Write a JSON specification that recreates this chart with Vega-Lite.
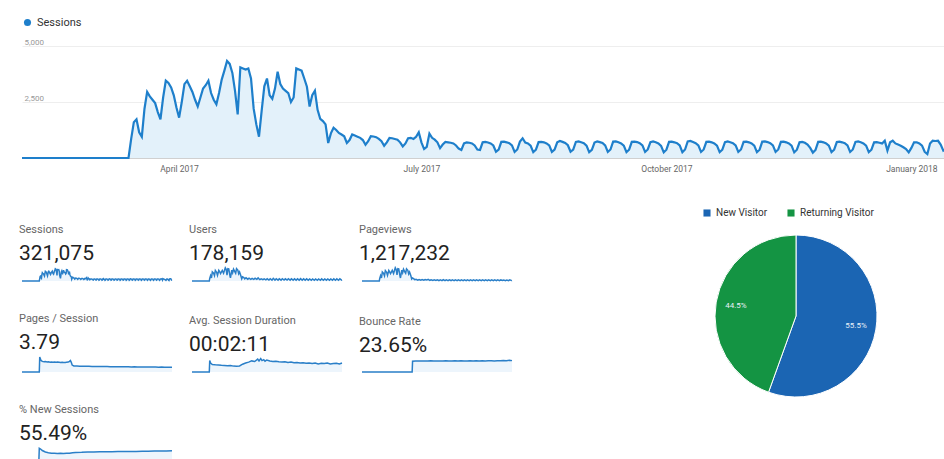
{
"$schema": "https://vega.github.io/schema/vega-lite/v6.json",
"padding": {"left": 17, "top": 17, "right": 0, "bottom": 0},
"background": "white",
"config": {
  "font": "Roboto",
  "view": {"stroke": null},
  "title": {"anchor": "start", "font": "Roboto", "subtitleFont": "Roboto", "fontSize": 11, "fontWeight": "normal", "color": "#666666", "subtitleFontSize": 21, "subtitleColor": "#222222", "subtitlePadding": 8, "offset": 1}
},
"resolve": {"scale": {"color": "independent"}, "legend": {"color": "independent"}},
"datasets": {
"sessions": [
{"d":"2017-02-01","v":0},{"d":"2017-02-02","v":0},{"d":"2017-02-03","v":0},{"d":"2017-02-04","v":0},{"d":"2017-02-05","v":0},{"d":"2017-02-06","v":0},{"d":"2017-02-07","v":0},{"d":"2017-02-08","v":0},{"d":"2017-02-09","v":0},{"d":"2017-02-10","v":0},{"d":"2017-02-11","v":0},{"d":"2017-02-12","v":0},{"d":"2017-02-13","v":0},{"d":"2017-02-14","v":0},{"d":"2017-02-15","v":0},{"d":"2017-02-16","v":0},{"d":"2017-02-17","v":0},{"d":"2017-02-18","v":0},{"d":"2017-02-19","v":0},{"d":"2017-02-20","v":0},{"d":"2017-02-21","v":0},{"d":"2017-02-22","v":0},{"d":"2017-02-23","v":0},{"d":"2017-02-24","v":0},{"d":"2017-02-25","v":0},{"d":"2017-02-26","v":0},{"d":"2017-02-27","v":0},{"d":"2017-02-28","v":0},
{"d":"2017-03-01","v":0},{"d":"2017-03-02","v":0},{"d":"2017-03-03","v":0},{"d":"2017-03-04","v":0},{"d":"2017-03-05","v":0},{"d":"2017-03-06","v":0},{"d":"2017-03-07","v":0},{"d":"2017-03-08","v":0},{"d":"2017-03-09","v":0},{"d":"2017-03-10","v":0},{"d":"2017-03-11","v":0},{"d":"2017-03-12","v":0},{"d":"2017-03-13","v":0},
{"d":"2017-03-14","v":850},{"d":"2017-03-15","v":1600},{"d":"2017-03-16","v":1730},{"d":"2017-03-17","v":1150},{"d":"2017-03-18","v":950},{"d":"2017-03-19","v":2200},{"d":"2017-03-20","v":2950},{"d":"2017-03-21","v":2750},{"d":"2017-03-22","v":2600},{"d":"2017-03-23","v":2450},{"d":"2017-03-24","v":2050},{"d":"2017-03-25","v":1730},{"d":"2017-03-26","v":2700},{"d":"2017-03-27","v":3450},{"d":"2017-03-28","v":3350},{"d":"2017-03-29","v":3150},{"d":"2017-03-30","v":2800},{"d":"2017-03-31","v":2250},
{"d":"2017-04-01","v":1800},{"d":"2017-04-02","v":2500},{"d":"2017-04-03","v":3300},{"d":"2017-04-04","v":3450},{"d":"2017-04-05","v":3200},{"d":"2017-04-06","v":2950},{"d":"2017-04-07","v":2600},{"d":"2017-04-08","v":2300},{"d":"2017-04-09","v":2700},{"d":"2017-04-10","v":3100},{"d":"2017-04-11","v":3250},{"d":"2017-04-12","v":3450},{"d":"2017-04-13","v":2900},{"d":"2017-04-14","v":2600},{"d":"2017-04-15","v":2400},{"d":"2017-04-16","v":2900},{"d":"2017-04-17","v":3500},{"d":"2017-04-18","v":3900},{"d":"2017-04-19","v":4330},{"d":"2017-04-20","v":4200},{"d":"2017-04-21","v":3800},{"d":"2017-04-22","v":3000},{"d":"2017-04-23","v":1950},{"d":"2017-04-24","v":4050},{"d":"2017-04-25","v":4000},{"d":"2017-04-26","v":3950},{"d":"2017-04-27","v":4000},{"d":"2017-04-28","v":3550},{"d":"2017-04-29","v":2200},{"d":"2017-04-30","v":1500},
{"d":"2017-05-01","v":950},{"d":"2017-05-02","v":2100},{"d":"2017-05-03","v":3200},{"d":"2017-05-04","v":3550},{"d":"2017-05-05","v":2800},{"d":"2017-05-06","v":2640},{"d":"2017-05-07","v":3100},{"d":"2017-05-08","v":3850},{"d":"2017-05-09","v":3300},{"d":"2017-05-10","v":3100},{"d":"2017-05-11","v":3000},{"d":"2017-05-12","v":2900},{"d":"2017-05-13","v":2500},{"d":"2017-05-14","v":2700},{"d":"2017-05-15","v":4000},{"d":"2017-05-16","v":3950},{"d":"2017-05-17","v":3900},{"d":"2017-05-18","v":3550},{"d":"2017-05-19","v":3180},{"d":"2017-05-20","v":2300},{"d":"2017-05-21","v":2800},{"d":"2017-05-22","v":3000},{"d":"2017-05-23","v":2150},{"d":"2017-05-24","v":1750},{"d":"2017-05-25","v":1650},{"d":"2017-05-26","v":1500},{"d":"2017-05-27","v":670},{"d":"2017-05-28","v":1100},{"d":"2017-05-29","v":1350},{"d":"2017-05-30","v":1250},{"d":"2017-05-31","v":1120},
{"d":"2017-06-01","v":1050},{"d":"2017-06-02","v":970},{"d":"2017-06-03","v":670},{"d":"2017-06-04","v":800},{"d":"2017-06-05","v":1050},{"d":"2017-06-06","v":1000},{"d":"2017-06-07","v":950},{"d":"2017-06-08","v":900},{"d":"2017-06-09","v":800},{"d":"2017-06-10","v":590},{"d":"2017-06-11","v":750},{"d":"2017-06-12","v":970},{"d":"2017-06-13","v":960},{"d":"2017-06-14","v":930},{"d":"2017-06-15","v":850},{"d":"2017-06-16","v":750},{"d":"2017-06-17","v":545},{"d":"2017-06-18","v":700},{"d":"2017-06-19","v":900},{"d":"2017-06-20","v":880},{"d":"2017-06-21","v":850},{"d":"2017-06-22","v":820},{"d":"2017-06-23","v":700},{"d":"2017-06-24","v":515},{"d":"2017-06-25","v":650},{"d":"2017-06-26","v":880},{"d":"2017-06-27","v":900},{"d":"2017-06-28","v":850},{"d":"2017-06-29","v":950},{"d":"2017-06-30","v":1150},
{"d":"2017-07-01","v":700},{"d":"2017-07-02","v":400},{"d":"2017-07-03","v":500},{"d":"2017-07-04","v":1090},{"d":"2017-07-05","v":900},{"d":"2017-07-06","v":820},{"d":"2017-07-07","v":700},{"d":"2017-07-08","v":440},{"d":"2017-07-09","v":600},{"d":"2017-07-10","v":720},{"d":"2017-07-11","v":700},{"d":"2017-07-12","v":680},{"d":"2017-07-13","v":650},{"d":"2017-07-14","v":560},{"d":"2017-07-15","v":420},{"d":"2017-07-16","v":360},{"d":"2017-07-17","v":650},{"d":"2017-07-18","v":700},{"d":"2017-07-19","v":680},{"d":"2017-07-20","v":650},{"d":"2017-07-21","v":560},{"d":"2017-07-22","v":380},{"d":"2017-07-23","v":360},{"d":"2017-07-24","v":700},{"d":"2017-07-25","v":720},{"d":"2017-07-26","v":690},{"d":"2017-07-27","v":650},{"d":"2017-07-28","v":560},{"d":"2017-07-29","v":280},{"d":"2017-07-30","v":380},{"d":"2017-07-31","v":720},
{"d":"2017-08-01","v":730},{"d":"2017-08-02","v":700},{"d":"2017-08-03","v":660},{"d":"2017-08-04","v":560},{"d":"2017-08-05","v":270},{"d":"2017-08-06","v":380},{"d":"2017-08-07","v":730},{"d":"2017-08-08","v":880},{"d":"2017-08-09","v":690},{"d":"2017-08-10","v":650},{"d":"2017-08-11","v":550},{"d":"2017-08-12","v":260},{"d":"2017-08-13","v":370},{"d":"2017-08-14","v":710},{"d":"2017-08-15","v":720},{"d":"2017-08-16","v":700},{"d":"2017-08-17","v":650},{"d":"2017-08-18","v":560},{"d":"2017-08-19","v":270},{"d":"2017-08-20","v":370},{"d":"2017-08-21","v":700},{"d":"2017-08-22","v":760},{"d":"2017-08-23","v":720},{"d":"2017-08-24","v":670},{"d":"2017-08-25","v":570},{"d":"2017-08-26","v":280},{"d":"2017-08-27","v":380},{"d":"2017-08-28","v":720},{"d":"2017-08-29","v":740},{"d":"2017-08-30","v":700},{"d":"2017-08-31","v":660},
{"d":"2017-09-01","v":550},{"d":"2017-09-02","v":260},{"d":"2017-09-03","v":360},{"d":"2017-09-04","v":690},{"d":"2017-09-05","v":740},{"d":"2017-09-06","v":710},{"d":"2017-09-07","v":670},{"d":"2017-09-08","v":560},{"d":"2017-09-09","v":270},{"d":"2017-09-10","v":380},{"d":"2017-09-11","v":730},{"d":"2017-09-12","v":740},{"d":"2017-09-13","v":700},{"d":"2017-09-14","v":650},{"d":"2017-09-15","v":550},{"d":"2017-09-16","v":260},{"d":"2017-09-17","v":370},{"d":"2017-09-18","v":720},{"d":"2017-09-19","v":730},{"d":"2017-09-20","v":710},{"d":"2017-09-21","v":660},{"d":"2017-09-22","v":560},{"d":"2017-09-23","v":270},{"d":"2017-09-24","v":380},{"d":"2017-09-25","v":710},{"d":"2017-09-26","v":740},{"d":"2017-09-27","v":700},{"d":"2017-09-28","v":650},{"d":"2017-09-29","v":540},{"d":"2017-09-30","v":250},
{"d":"2017-10-01","v":370},{"d":"2017-10-02","v":720},{"d":"2017-10-03","v":730},{"d":"2017-10-04","v":700},{"d":"2017-10-05","v":660},{"d":"2017-10-06","v":560},{"d":"2017-10-07","v":260},{"d":"2017-10-08","v":380},{"d":"2017-10-09","v":740},{"d":"2017-10-10","v":760},{"d":"2017-10-11","v":710},{"d":"2017-10-12","v":660},{"d":"2017-10-13","v":560},{"d":"2017-10-14","v":270},{"d":"2017-10-15","v":380},{"d":"2017-10-16","v":720},{"d":"2017-10-17","v":730},{"d":"2017-10-18","v":700},{"d":"2017-10-19","v":650},{"d":"2017-10-20","v":550},{"d":"2017-10-21","v":260},{"d":"2017-10-22","v":370},{"d":"2017-10-23","v":710},{"d":"2017-10-24","v":740},{"d":"2017-10-25","v":700},{"d":"2017-10-26","v":660},{"d":"2017-10-27","v":560},{"d":"2017-10-28","v":270},{"d":"2017-10-29","v":380},{"d":"2017-10-30","v":720},{"d":"2017-10-31","v":730},
{"d":"2017-11-01","v":700},{"d":"2017-11-02","v":650},{"d":"2017-11-03","v":550},{"d":"2017-11-04","v":260},{"d":"2017-11-05","v":370},{"d":"2017-11-06","v":730},{"d":"2017-11-07","v":740},{"d":"2017-11-08","v":710},{"d":"2017-11-09","v":660},{"d":"2017-11-10","v":560},{"d":"2017-11-11","v":270},{"d":"2017-11-12","v":380},{"d":"2017-11-13","v":720},{"d":"2017-11-14","v":730},{"d":"2017-11-15","v":700},{"d":"2017-11-16","v":650},{"d":"2017-11-17","v":550},{"d":"2017-11-18","v":250},{"d":"2017-11-19","v":370},{"d":"2017-11-20","v":700},{"d":"2017-11-21","v":720},{"d":"2017-11-22","v":680},{"d":"2017-11-23","v":600},{"d":"2017-11-24","v":450},{"d":"2017-11-25","v":240},{"d":"2017-11-26","v":360},{"d":"2017-11-27","v":720},{"d":"2017-11-28","v":730},{"d":"2017-11-29","v":700},{"d":"2017-11-30","v":650},
{"d":"2017-12-01","v":550},{"d":"2017-12-02","v":260},{"d":"2017-12-03","v":370},{"d":"2017-12-04","v":710},{"d":"2017-12-05","v":730},{"d":"2017-12-06","v":700},{"d":"2017-12-07","v":660},{"d":"2017-12-08","v":560},{"d":"2017-12-09","v":270},{"d":"2017-12-10","v":380},{"d":"2017-12-11","v":720},{"d":"2017-12-12","v":740},{"d":"2017-12-13","v":700},{"d":"2017-12-14","v":650},{"d":"2017-12-15","v":550},{"d":"2017-12-16","v":260},{"d":"2017-12-17","v":370},{"d":"2017-12-18","v":700},{"d":"2017-12-19","v":710},{"d":"2017-12-20","v":680},{"d":"2017-12-21","v":650},{"d":"2017-12-22","v":770},{"d":"2017-12-23","v":330},{"d":"2017-12-24","v":700},{"d":"2017-12-25","v":770},{"d":"2017-12-26","v":650},{"d":"2017-12-27","v":600},{"d":"2017-12-28","v":550},{"d":"2017-12-29","v":480},{"d":"2017-12-30","v":400},{"d":"2017-12-31","v":250},
{"d":"2018-01-01","v":450},{"d":"2018-01-02","v":700},{"d":"2018-01-03","v":700},{"d":"2018-01-04","v":650},{"d":"2018-01-05","v":550},{"d":"2018-01-06","v":280},{"d":"2018-01-07","v":180},{"d":"2018-01-08","v":650},{"d":"2018-01-09","v":770},{"d":"2018-01-10","v":760},{"d":"2018-01-11","v":770},{"d":"2018-01-12","v":600},{"d":"2018-01-13","v":330},{"d":"2018-01-14","v":400}
],
"users": [
{"d":"2017-02-01","v":0},{"d":"2017-03-13","v":0},{"d":"2017-03-14","v":500},{"d":"2017-03-16","v":1050},{"d":"2017-03-18","v":600},{"d":"2017-03-20","v":1750},{"d":"2017-03-23","v":1500},{"d":"2017-03-25","v":1050},{"d":"2017-03-27","v":2050},{"d":"2017-03-30","v":1700},{"d":"2017-04-01","v":1100},{"d":"2017-04-04","v":2050},{"d":"2017-04-06","v":1800},{"d":"2017-04-08","v":1450},{"d":"2017-04-12","v":2050},{"d":"2017-04-15","v":1500},{"d":"2017-04-19","v":2550},{"d":"2017-04-21","v":2250},{"d":"2017-04-23","v":1150},{"d":"2017-04-25","v":2400},{"d":"2017-04-27","v":2350},{"d":"2017-04-30","v":900},{"d":"2017-05-01","v":600},{"d":"2017-05-04","v":2100},{"d":"2017-05-06","v":1600},{"d":"2017-05-08","v":2300},{"d":"2017-05-11","v":1800},{"d":"2017-05-13","v":1500},{"d":"2017-05-15","v":2400},{"d":"2017-05-18","v":2100},{"d":"2017-05-20","v":1400},{"d":"2017-05-22","v":1750},{"d":"2017-05-25","v":1000},{"d":"2017-05-27","v":420},{"d":"2017-05-29","v":800},{"d":"2017-06-01","v":650},{"d":"2017-06-03","v":400},
{"d":"2017-06-06","v":620},{"d":"2017-06-10","v":350},{"d":"2017-06-13","v":560},{"d":"2017-06-17","v":330},{"d":"2017-06-20","v":520},{"d":"2017-06-24","v":310},{"d":"2017-06-27","v":530},{"d":"2017-07-01","v":330},{"d":"2017-07-04","v":600},{"d":"2017-07-08","v":260},{"d":"2017-07-11","v":420},{"d":"2017-07-15","v":250},{"d":"2017-07-18","v":420},{"d":"2017-07-22","v":220},{"d":"2017-07-25","v":430},{"d":"2017-07-29","v":180},{"d":"2017-08-01","v":430},{"d":"2017-08-05","v":170},{"d":"2017-08-08","v":520},{"d":"2017-08-12","v":170},{"d":"2017-08-15","v":430},{"d":"2017-08-19","v":170},{"d":"2017-08-22","v":450},{"d":"2017-08-26","v":170},{"d":"2017-08-29","v":430},{"d":"2017-09-02","v":170},{"d":"2017-09-05","v":420},{"d":"2017-09-09","v":170},{"d":"2017-09-12","v":430},{"d":"2017-09-16","v":170},{"d":"2017-09-19","v":430},{"d":"2017-09-23","v":160},{"d":"2017-09-26","v":420},{"d":"2017-09-30","v":160},{"d":"2017-10-03","v":420},{"d":"2017-10-07","v":160},{"d":"2017-10-10","v":450},{"d":"2017-10-14","v":160},{"d":"2017-10-17","v":420},{"d":"2017-10-21","v":160},{"d":"2017-10-24","v":420},{"d":"2017-10-28","v":160},{"d":"2017-10-31","v":410},{"d":"2017-11-04","v":160},{"d":"2017-11-07","v":410},{"d":"2017-11-11","v":150},{"d":"2017-11-14","v":410},{"d":"2017-11-18","v":150},{"d":"2017-11-21","v":400},{"d":"2017-11-25","v":140},{"d":"2017-11-28","v":410},{"d":"2017-12-02","v":150},{"d":"2017-12-05","v":400},{"d":"2017-12-09","v":150},{"d":"2017-12-12","v":400},{"d":"2017-12-16","v":150},{"d":"2017-12-19","v":410},{"d":"2017-12-23","v":160},{"d":"2017-12-26","v":420},{"d":"2017-12-30","v":150},{"d":"2018-01-02","v":420},{"d":"2018-01-06","v":150},{"d":"2018-01-09","v":440},{"d":"2018-01-13","v":160},{"d":"2018-01-14","v":220}
],
"pageviews": [
{"d":"2017-02-01","v":0},{"d":"2017-03-13","v":0},{"d":"2017-03-14","v":3500},{"d":"2017-03-16","v":7500},{"d":"2017-03-18","v":4200},{"d":"2017-03-20","v":12500},{"d":"2017-03-23","v":10500},{"d":"2017-03-25","v":7300},{"d":"2017-03-27","v":14500},{"d":"2017-03-30","v":12000},{"d":"2017-04-01","v":7800},{"d":"2017-04-04","v":14800},{"d":"2017-04-06","v":12800},{"d":"2017-04-08","v":10200},{"d":"2017-04-12","v":14800},{"d":"2017-04-15","v":10500},{"d":"2017-04-19","v":18500},{"d":"2017-04-21","v":16200},{"d":"2017-04-23","v":8500},{"d":"2017-04-25","v":17200},{"d":"2017-04-27","v":17000},{"d":"2017-04-30","v":6500},{"d":"2017-05-01","v":4200},{"d":"2017-05-04","v":15000},{"d":"2017-05-06","v":11500},{"d":"2017-05-08","v":16500},{"d":"2017-05-11","v":12800},{"d":"2017-05-13","v":10800},{"d":"2017-05-15","v":17000},{"d":"2017-05-18","v":15000},{"d":"2017-05-20","v":9800},{"d":"2017-05-22","v":12500},{"d":"2017-05-25","v":7200},{"d":"2017-05-27","v":2900},{"d":"2017-05-29","v":4200},{"d":"2017-06-01","v":3000},{"d":"2017-06-03","v":1800},
{"d":"2017-06-06","v":2400},{"d":"2017-06-10","v":1300},{"d":"2017-06-13","v":2100},{"d":"2017-06-17","v":1200},{"d":"2017-06-20","v":1900},{"d":"2017-06-24","v":1100},{"d":"2017-06-27","v":2000},{"d":"2017-07-01","v":1300},{"d":"2017-07-04","v":2300},{"d":"2017-07-08","v":950},{"d":"2017-07-11","v":1600},{"d":"2017-07-15","v":900},{"d":"2017-07-18","v":1550},{"d":"2017-07-22","v":800},{"d":"2017-07-25","v":1600},{"d":"2017-07-29","v":620},{"d":"2017-08-01","v":1600},{"d":"2017-08-05","v":600},{"d":"2017-08-08","v":1900},{"d":"2017-08-12","v":600},{"d":"2017-08-15","v":1600},{"d":"2017-08-19","v":600},{"d":"2017-08-22","v":1700},{"d":"2017-08-26","v":620},{"d":"2017-08-29","v":1600},{"d":"2017-09-02","v":600},{"d":"2017-09-05","v":1600},{"d":"2017-09-09","v":580},{"d":"2017-09-12","v":1600},{"d":"2017-09-16","v":580},{"d":"2017-09-19","v":1580},{"d":"2017-09-23","v":560},{"d":"2017-09-26","v":1580},{"d":"2017-09-30","v":560},{"d":"2017-10-03","v":1560},{"d":"2017-10-07","v":560},{"d":"2017-10-10","v":1650},{"d":"2017-10-14","v":560},{"d":"2017-10-17","v":1550},{"d":"2017-10-21","v":550},{"d":"2017-10-24","v":1550},{"d":"2017-10-28","v":550},{"d":"2017-10-31","v":1540},{"d":"2017-11-04","v":540},{"d":"2017-11-07","v":1540},{"d":"2017-11-11","v":540},{"d":"2017-11-14","v":1530},{"d":"2017-11-18","v":520},{"d":"2017-11-21","v":1500},{"d":"2017-11-25","v":500},{"d":"2017-11-28","v":1520},{"d":"2017-12-02","v":520},{"d":"2017-12-05","v":1500},{"d":"2017-12-09","v":520},{"d":"2017-12-12","v":1520},{"d":"2017-12-16","v":520},{"d":"2017-12-19","v":1500},{"d":"2017-12-23","v":650},{"d":"2017-12-26","v":1400},{"d":"2017-12-30","v":500},{"d":"2018-01-02","v":1450},{"d":"2018-01-06","v":500},{"d":"2018-01-09","v":1600},{"d":"2018-01-13","v":600},{"d":"2018-01-14","v":800}
],
"pps": [
{"d":"2017-02-01","v":0},{"d":"2017-03-13","v":0},{"d":"2017-03-14","v":6.5},{"d":"2017-03-17","v":5.0},{"d":"2017-03-20","v":4.6},{"d":"2017-03-24","v":4.4},{"d":"2017-03-27","v":4.5},{"d":"2017-03-31","v":4.3},{"d":"2017-04-03","v":4.4},{"d":"2017-04-07","v":4.2},{"d":"2017-04-10","v":4.3},{"d":"2017-04-14","v":4.2},{"d":"2017-04-17","v":4.3},{"d":"2017-04-21","v":4.2},{"d":"2017-04-24","v":4.3},{"d":"2017-04-28","v":4.2},{"d":"2017-05-01","v":4.1},{"d":"2017-05-05","v":4.2},{"d":"2017-05-08","v":4.1},{"d":"2017-05-12","v":4.1},{"d":"2017-05-15","v":4.2},{"d":"2017-05-19","v":4.3},{"d":"2017-05-22","v":4.6},{"d":"2017-05-24","v":5.0},{"d":"2017-05-26","v":4.2},{"d":"2017-05-28","v":3.0},{"d":"2017-06-01","v":2.6},{"d":"2017-06-08","v":2.55},{"d":"2017-06-15","v":2.5},{"d":"2017-06-22","v":2.5},{"d":"2017-06-29","v":2.45},{"d":"2017-07-06","v":2.45},{"d":"2017-07-13","v":2.4},{"d":"2017-07-20","v":2.4},{"d":"2017-07-27","v":2.4},{"d":"2017-08-03","v":2.35},{"d":"2017-08-10","v":2.4},{"d":"2017-08-17","v":2.35},{"d":"2017-08-24","v":2.3},{"d":"2017-08-31","v":2.3},{"d":"2017-09-07","v":2.3},{"d":"2017-09-14","v":2.25},{"d":"2017-09-21","v":2.3},{"d":"2017-09-28","v":2.25},{"d":"2017-10-05","v":2.25},{"d":"2017-10-12","v":2.2},{"d":"2017-10-19","v":2.25},{"d":"2017-10-26","v":2.2},{"d":"2017-11-02","v":2.2},{"d":"2017-11-09","v":2.2},{"d":"2017-11-16","v":2.15},{"d":"2017-11-23","v":2.2},{"d":"2017-11-30","v":2.15},{"d":"2017-12-07","v":2.15},{"d":"2017-12-14","v":2.1},{"d":"2017-12-21","v":2.15},{"d":"2017-12-28","v":2.1},{"d":"2018-01-04","v":2.1},{"d":"2018-01-11","v":2.05},{"d":"2018-01-14","v":2.1}
],
"duration": [
{"d":"2017-02-01","v":0},{"d":"2017-03-13","v":0},{"d":"2017-03-14","v":190},{"d":"2017-03-16","v":150},{"d":"2017-03-20","v":125},{"d":"2017-03-27","v":120},{"d":"2017-04-03","v":118},{"d":"2017-04-10","v":112},{"d":"2017-04-17","v":108},{"d":"2017-04-24","v":104},{"d":"2017-05-01","v":110},{"d":"2017-05-08","v":98},{"d":"2017-05-15","v":96},{"d":"2017-05-22","v":100},{"d":"2017-05-29","v":130},{"d":"2017-06-05","v":150},{"d":"2017-06-12","v":165},{"d":"2017-06-19","v":185},{"d":"2017-06-26","v":175},{"d":"2017-07-03","v":215},{"d":"2017-07-06","v":185},{"d":"2017-07-10","v":225},{"d":"2017-07-13","v":190},{"d":"2017-07-17","v":205},{"d":"2017-07-20","v":180},{"d":"2017-07-24","v":200},{"d":"2017-07-31","v":185},{"d":"2017-08-07","v":175},{"d":"2017-08-14","v":180},{"d":"2017-08-21","v":170},{"d":"2017-08-28","v":165},{"d":"2017-09-04","v":170},{"d":"2017-09-11","v":160},{"d":"2017-09-18","v":165},{"d":"2017-09-25","v":155},{"d":"2017-10-02","v":160},{"d":"2017-10-09","v":150},{"d":"2017-10-16","v":155},{"d":"2017-10-23","v":145},{"d":"2017-10-30","v":150},{"d":"2017-11-06","v":140},{"d":"2017-11-13","v":150},{"d":"2017-11-20","v":135},{"d":"2017-11-27","v":145},{"d":"2017-12-04","v":140},{"d":"2017-12-11","v":150},{"d":"2017-12-18","v":135},{"d":"2017-12-25","v":140},{"d":"2018-01-01","v":145},{"d":"2018-01-08","v":135},{"d":"2018-01-14","v":150}
],
"bounce": [
{"d":"2017-02-01","v":0},{"d":"2017-05-28","v":0},{"d":"2017-05-29","v":61},{"d":"2017-06-05","v":62.5},{"d":"2017-06-12","v":63},{"d":"2017-06-19","v":62},{"d":"2017-06-26","v":63},{"d":"2017-07-03","v":62.5},{"d":"2017-07-10","v":63.5},{"d":"2017-07-17","v":62.5},{"d":"2017-07-24","v":63},{"d":"2017-07-31","v":62},{"d":"2017-08-07","v":63},{"d":"2017-08-14","v":63.5},{"d":"2017-08-21","v":62.5},{"d":"2017-08-28","v":63},{"d":"2017-09-04","v":64},{"d":"2017-09-11","v":63},{"d":"2017-09-18","v":63.5},{"d":"2017-09-25","v":62.5},{"d":"2017-10-02","v":63},{"d":"2017-10-09","v":63.5},{"d":"2017-10-16","v":63},{"d":"2017-10-23","v":64},{"d":"2017-10-30","v":63},{"d":"2017-11-06","v":63.5},{"d":"2017-11-13","v":63},{"d":"2017-11-20","v":64},{"d":"2017-11-27","v":63.5},{"d":"2017-12-04","v":63},{"d":"2017-12-11","v":64},{"d":"2017-12-18","v":63.5},{"d":"2017-12-25","v":64.5},{"d":"2018-01-01","v":64},{"d":"2018-01-08","v":67},{"d":"2018-01-14","v":64.5}
],
"newpct": [
{"d":"2017-02-01","v":0},{"d":"2017-03-12","v":0},{"d":"2017-03-13","v":85},{"d":"2017-03-16","v":80},{"d":"2017-03-20","v":70},{"d":"2017-03-27","v":60},{"d":"2017-04-03","v":55},{"d":"2017-04-10","v":52},{"d":"2017-04-17","v":51},{"d":"2017-04-24","v":50},{"d":"2017-05-01","v":51},{"d":"2017-05-08","v":50},{"d":"2017-05-15","v":51},{"d":"2017-05-22","v":52},{"d":"2017-05-29","v":55},{"d":"2017-06-05","v":57},{"d":"2017-06-19","v":58},{"d":"2017-07-03","v":60},{"d":"2017-07-17","v":60},{"d":"2017-07-31","v":61},{"d":"2017-08-14","v":62},{"d":"2017-08-28","v":62},{"d":"2017-09-11","v":63},{"d":"2017-09-25","v":63},{"d":"2017-10-09","v":64},{"d":"2017-10-23","v":64},{"d":"2017-11-06","v":65},{"d":"2017-11-20","v":65},{"d":"2017-12-04","v":66},{"d":"2017-12-18","v":66},{"d":"2018-01-01","v":67},{"d":"2018-01-14","v":68}
],
"visitors": [
{"type":"New Visitor","share":0.555},
{"type":"Returning Visitor","share":0.445}
]
},
"spacing": 35,
"vconcat": [
{
  "width": 924, "height": 112,
  "data": {"name": "sessions"},
  "encoding": {
    "x": {"field": "d", "type": "temporal",
      "scale": {"type": "utc", "domain": [{"year": 2017, "month": 2, "date": 1, "utc": true}, {"year": 2018, "month": 1, "date": 14, "utc": true}]},
      "axis": {"title": null, "values": [{"year": 2017, "month": 4, "date": 1, "utc": true}, {"year": 2017, "month": 7, "date": 1, "utc": true}, {"year": 2017, "month": 10, "date": 1, "utc": true}, {"year": 2018, "month": 1, "date": 1, "utc": true}], "format": "%B %Y", "ticks": false, "grid": false, "domainColor": "#d0d0d0", "labelFontSize": 8.5, "labelColor": "#666666", "labelPadding": 6, "labelFlush": false}},
    "y": {"field": "v", "type": "quantitative",
      "scale": {"domain": [0, 5000], "nice": false},
      "axis": {"title": null, "values": [2500, 5000], "format": ",.0f", "labelAlign": "left", "labelBaseline": "bottom", "labelPadding": -2, "tickSize": 0, "ticks": false, "domain": false, "grid": true, "gridColor": "#eeeeee", "labelFontSize": 8, "labelColor": "#999999", "labelFlush": false}}
  },
  "layer": [
    {"mark": {"type": "area", "color": "#e3f1fa"}},
    {"mark": {"type": "line", "strokeWidth": 2.2},
     "encoding": {"color": {"datum": "Sessions", "scale": {"domain": ["Sessions"], "range": ["#1e7fcb"]},
       "legend": {"title": null, "orient": "top", "symbolType": "circle", "symbolSize": 50, "labelFontSize": 11, "labelColor": "#333333", "offset": 18,
         "encode": {"symbols": {"update": {"fill": {"value": "#1e7fcb"}, "stroke": {"value": "#1e7fcb"}, "strokeWidth": {"value": 0}}}}}}}}
  ]
},
{
  "columns": 2,
  "align": "none",
  "center": false,
  "spacing": 187,
  "resolve": {"scale": {"color": "independent"}, "legend": {"color": "independent"}},
  "concat": [
    {
      "spacing": 29,
      "vconcat": [
        {"spacing": 14, "hconcat": [
          {"width": 150, "height": 46, "title": {"text": "Sessions", "subtitle": "321,075", "offset": -29}, "data": {"name": "sessions"},
           "encoding": {"x": {"field": "d", "type": "temporal", "scale": {"type": "utc", "domain": [{"year": 2017, "month": 2, "date": 1, "utc": true}, {"year": 2018, "month": 1, "date": 14, "utc": true}]}, "axis": null},
                        "y": {"field": "v", "type": "quantitative", "scale": {"domain": [0, 16260], "nice": false}, "axis": null}},
           "layer": [{"mark": {"type": "area", "color": "#edf5fc"}}, {"mark": {"type": "line", "color": "#2a7fc8", "strokeWidth": 1.5}}]},
          {"width": 150, "height": 46, "title": {"text": "Users", "subtitle": "178,159", "offset": -29}, "data": {"name": "users"},
           "encoding": {"x": {"field": "d", "type": "temporal", "scale": {"type": "utc", "domain": [{"year": 2017, "month": 2, "date": 1, "utc": true}, {"year": 2018, "month": 1, "date": 14, "utc": true}]}, "axis": null},
                        "y": {"field": "v", "type": "quantitative", "scale": {"domain": [0, 8900], "nice": false}, "axis": null}},
           "layer": [{"mark": {"type": "area", "color": "#edf5fc"}}, {"mark": {"type": "line", "color": "#2a7fc8", "strokeWidth": 1.5}}]},
          {"width": 150, "height": 46, "title": {"text": "Pageviews", "subtitle": "1,217,232", "offset": -29}, "data": {"name": "pageviews"},
           "encoding": {"x": {"field": "d", "type": "temporal", "scale": {"type": "utc", "domain": [{"year": 2017, "month": 2, "date": 1, "utc": true}, {"year": 2018, "month": 1, "date": 14, "utc": true}]}, "axis": null},
                        "y": {"field": "v", "type": "quantitative", "scale": {"domain": [0, 64090], "nice": false}, "axis": null}},
           "layer": [{"mark": {"type": "area", "color": "#edf5fc"}}, {"mark": {"type": "line", "color": "#2a7fc8", "strokeWidth": 1.5}}]}
        ]},
        {"spacing": 14, "hconcat": [
          {"width": 150, "height": 15, "title": {"text": "Pages / Session", "subtitle": "3.79"}, "data": {"name": "pps"},
           "encoding": {"x": {"field": "d", "type": "temporal", "scale": {"type": "utc", "domain": [{"year": 2017, "month": 2, "date": 1, "utc": true}, {"year": 2018, "month": 1, "date": 14, "utc": true}]}, "axis": null},
                        "y": {"field": "v", "type": "quantitative", "scale": {"domain": [0, 6.5], "nice": false}, "axis": null}},
           "layer": [{"mark": {"type": "area", "color": "#edf5fc"}}, {"mark": {"type": "line", "color": "#2a7fc8", "strokeWidth": 1.5}}]},
          {"width": 150, "height": 15, "title": {"text": "Avg. Session Duration", "subtitle": "00:02:11"}, "data": {"name": "duration"},
           "encoding": {"x": {"field": "d", "type": "temporal", "scale": {"type": "utc", "domain": [{"year": 2017, "month": 2, "date": 1, "utc": true}, {"year": 2018, "month": 1, "date": 14, "utc": true}]}, "axis": null},
                        "y": {"field": "v", "type": "quantitative", "scale": {"domain": [0, 250], "nice": false}, "axis": null}},
           "layer": [{"mark": {"type": "area", "color": "#edf5fc"}}, {"mark": {"type": "line", "color": "#2a7fc8", "strokeWidth": 1.5}}]},
          {"width": 150, "height": 15, "title": {"text": "Bounce Rate", "subtitle": "23.65%"}, "data": {"name": "bounce"},
           "encoding": {"x": {"field": "d", "type": "temporal", "scale": {"type": "utc", "domain": [{"year": 2017, "month": 2, "date": 1, "utc": true}, {"year": 2018, "month": 1, "date": 14, "utc": true}]}, "axis": null},
                        "y": {"field": "v", "type": "quantitative", "scale": {"domain": [0, 85], "nice": false}, "axis": null}},
           "layer": [{"mark": {"type": "area", "color": "#edf5fc"}}, {"mark": {"type": "line", "color": "#2a7fc8", "strokeWidth": 1.5}}]}
        ]},
        {"hconcat": [
          {"width": 150, "height": 15, "title": {"text": "% New Sessions", "subtitle": "55.49%"}, "data": {"name": "newpct"},
           "encoding": {"x": {"field": "d", "type": "temporal", "scale": {"type": "utc", "domain": [{"year": 2017, "month": 2, "date": 1, "utc": true}, {"year": 2018, "month": 1, "date": 14, "utc": true}]}, "axis": null},
                        "y": {"field": "v", "type": "quantitative", "scale": {"domain": [0, 100], "nice": false}, "axis": null}},
           "layer": [{"mark": {"type": "area", "color": "#edf5fc"}}, {"mark": {"type": "line", "color": "#2a7fc8", "strokeWidth": 1.5}}]}
        ]}
      ]
    },
    {
      "width": 188, "height": 162,
      "data": {"name": "visitors"},
      "encoding": {
        "theta": {"field": "share", "type": "quantitative", "stack": true},
        "order": {"field": "type", "type": "nominal", "sort": "ascending"},
        "color": {"field": "type", "type": "nominal",
          "scale": {"domain": ["New Visitor", "Returning Visitor"], "range": ["#1b65b3", "#149443"]},
          "legend": {"title": null, "orient": "top", "direction": "horizontal", "symbolType": "square", "symbolSize": 50, "symbolStrokeWidth": 0, "labelFontSize": 10, "labelColor": "#333333", "labelFont": "Roboto", "offset": 17, "columnPadding": 18}}
      },
      "layer": [
        {"mark": {"type": "arc", "stroke": "#ffffff", "strokeWidth": 1}},
        {"mark": {"type": "text", "radius": 61, "fontSize": 8},
         "encoding": {"fill": {"value": "#e8f0f8"}, "text": {"field": "share", "type": "quantitative", "format": ".1%"}}}
      ]
    }
  ]
}
]
}
